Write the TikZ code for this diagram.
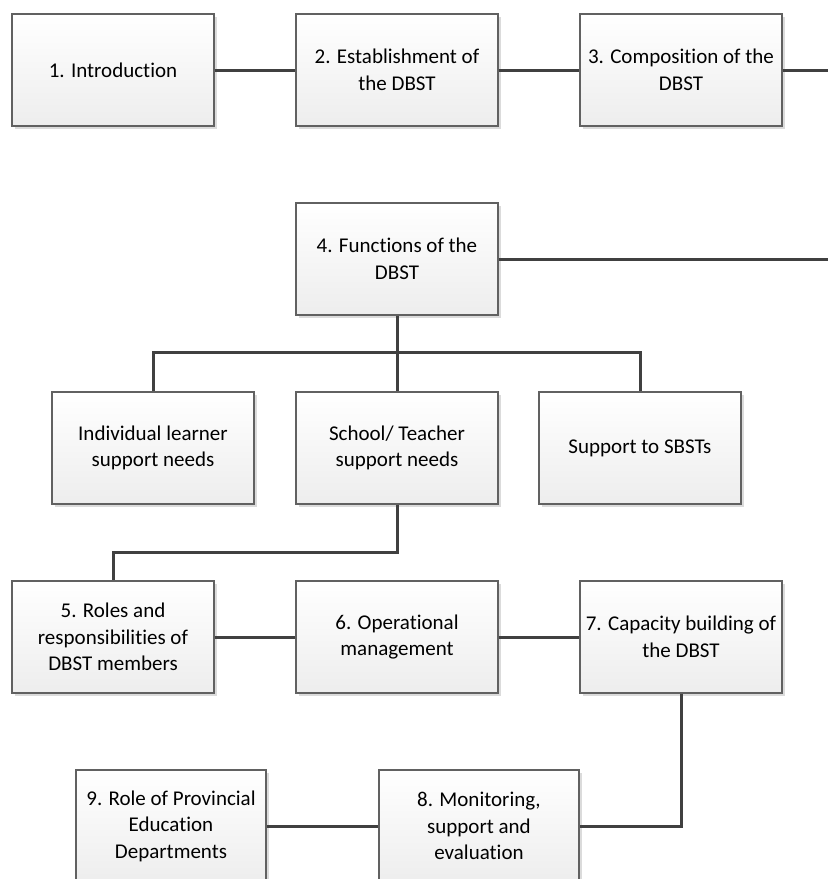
\documentclass[tikz,border=0pt]{standalone}
\usepackage{fontspec}
\setmainfont{Carlito}[Ligatures={NoCommon}]
\usetikzlibrary{shadows}
\tikzset{
  box/.style={draw=black!62, line width=1.1pt, top color=white, bottom color=black!7,
    minimum width=202pt, minimum height=112pt, inner sep=2pt, align=center,
    font=\fontsize{21}{26.5}\selectfont,
    drop shadow={shadow xshift=3pt, shadow yshift=-3pt, fill=black!14, opacity=1}},
  conn/.style={draw=black!75, line width=3pt}
}
\begin{document}
\begin{tikzpicture}[x=1pt,y=-1pt]
\useasboundingbox (0,0) rectangle (828,879);
\clip (0,0) rectangle (828,879);
% row 1
\node[box] (b1) at (113,70) {1. Introduction};
\node[box] (b2) at (397,70) {2. Establishment of\\the DBST};
\node[box] (b3) at (681,70) {3. Composition of the\\DBST};
% row 2
\node[box] (b4) at (397,259) {4. Functions of the\\DBST};
% row 3
\node[box] (ind) at (153,448) {Individual learner\\support needs};
\node[box] (sch) at (397,448) {School/ Teacher\\support needs};
\node[box] (sup) at (640,448) {Support to SBSTs};
% row 4
\node[box] (b5) at (113,637) {5. Roles and\\responsibilities of\\DBST members};
\node[box] (b6) at (397,637) {6. Operational\\management};
\node[box] (b7) at (681,637) {7. Capacity building of\\the DBST};
% row 5
\node[box, minimum width=200pt] (b8) at (479,826) {8. Monitoring,\\support and\\evaluation};
\node[box, minimum width=190pt] (b9) at (171,826) {9. Role of Provincial\\Education\\Departments};
% coordinates
\coordinate (e1) at (828,70);
\coordinate (e2) at (828,259);
\coordinate (bus) at (397,352);
\coordinate (j2) at (397,552);
% connectors
\draw[conn] (b1) -- (b2);
\draw[conn] (b2) -- (b3);
\draw[conn] (b3) -- (e1);
\draw[conn] (b4) -- (e2);
\draw[conn] (b4.south) -- (bus);
\draw[conn] (ind.north) |- (bus) -| (sup.north);
\draw[conn] (bus) -- (sch.north);
\draw[conn] (sch.south) -- (j2) -| (b5.north);
\draw[conn] (b5) -- (b6);
\draw[conn] (b6) -- (b7);
\draw[conn] (b7.south) |- (b8.east);
\draw[conn] (b8) -- (b9);
\end{tikzpicture}
\end{document}
